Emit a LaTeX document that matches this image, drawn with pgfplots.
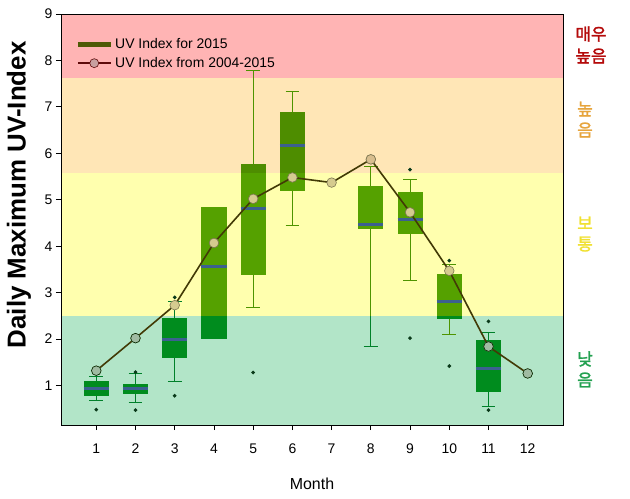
\documentclass[border=0pt]{standalone}
\usepackage{fontspec}
\setmainfont{Liberation Sans}
\newfontfamily\kr{Noto Sans CJK KR}[FakeBold=1.7]
\usepackage{pgfplots}
\pgfplotsset{compat=1.18}
\usepgfplotslibrary{statistics}
\definecolor{bandred}{HTML}{FFB4B4}
\definecolor{bandorange}{HTML}{FFE6B6}
\definecolor{bandyellow}{HTML}{FFFFAE}
\definecolor{bandgreen}{HTML}{B2E5C8}
\definecolor{boxlight}{HTML}{55A100}
\definecolor{boxorange}{HTML}{4E8D00}
\definecolor{boxdark}{HTML}{008C1E}
\definecolor{whisk}{HTML}{4E9400}
\definecolor{whiskdark}{HTML}{00802A}
\definecolor{medc}{HTML}{3C6090}
\definecolor{outl}{HTML}{0A3A1A}
\definecolor{linec}{HTML}{423A06}
\definecolor{mtan}{HTML}{D5CB8F}
\definecolor{mgreen}{HTML}{A0BBA2}
\definecolor{morange}{HTML}{D8BE8E}
\definecolor{legolive}{HTML}{4E5A06}
\definecolor{legred}{HTML}{5E0A0A}
\definecolor{legpink}{HTML}{C8A0A0}
\definecolor{krred}{HTML}{B40A0A}
\definecolor{krorange}{HTML}{E6A43C}
\definecolor{kryellow}{HTML}{F0E030}
\definecolor{krgreen}{HTML}{22A050}
\pgfplotsset{
  uvbox/.style={
    forget plot,
    boxplot/draw direction=y,
    boxplot/box extend=0.64,
    boxplot/whisker extend=0.35,
    solid, draw=whisk, line width=1bp,
    mark=*, mark size=1.3bp, mark options={draw=outl, fill=outl, solid},
    boxplot/every box/.style={draw=none, fill=#1},
    boxplot/every median/.style={draw=medc, line width=3bp},
  },
}
\begin{document}
\begin{tikzpicture}
\begin{axis}[
  name=ax,
  scale only axis, width=502bp, height=411bp,
  xmin=0.1, xmax=12.9, ymin=0.15, ymax=9,
  xtick={1,2,3,4,5,6,7,8,9,10,11,12},
  ytick={1,2,3,4,5,6,7,8,9},
  tick pos=left, tick align=outside,
  major tick length=5bp,
  tick style={black, line width=0.8bp},
  axis line style={black, line width=0.8bp},
  /pgf/number format/assume math mode=true,
  ticklabel style={font=\fontsize{14}{16}\selectfont},
  xticklabel style={yshift=-10bp},
  xlabel={Month},
  ylabel={Daily Maximum UV-Index},
  xlabel style={font=\fontsize{16}{19}\selectfont, at={(axis description cs:0.5,-0.1436)}, anchor=center},
  ylabel style={font=\fontsize{26}{30}\selectfont\bfseries, at={(axis description cs:-0.084,0.56)}, anchor=center},
  clip=true,
  legend style={at={(axis description cs:0.028,0.945)}, anchor=north west, draw=none, fill=none,
    font=\fontsize{14}{16}\selectfont, row sep=3bp, inner sep=0pt},
  legend cell align=left,
  axis on top,
]
% background bands
\addplot[forget plot, draw=none, fill=bandgreen] coordinates {(0.1,0.15)(12.9,0.15)(12.9,2.49)(0.1,2.49)} -- cycle;
\addplot[forget plot, draw=none, fill=bandyellow] coordinates {(0.1,2.49)(12.9,2.49)(12.9,5.58)(0.1,5.58)} -- cycle;
\addplot[forget plot, draw=none, fill=bandorange] coordinates {(0.1,5.58)(12.9,5.58)(12.9,7.62)(0.1,7.62)} -- cycle;
\addplot[forget plot, draw=none, fill=bandred] coordinates {(0.1,7.62)(12.9,7.62)(12.9,9)(0.1,9)} -- cycle;

% legend images
\addlegendimage{legend image code/.code={\draw[legolive, line width=5bp] (0bp,0bp) -- (33bp,0bp);}}
\addlegendentry{UV Index for 2015}
\addlegendimage{legend image code/.code={\draw[legred, line width=1.6bp] (0bp,0bp) -- (33bp,0bp);
  \draw[legred, fill=legpink, line width=0.6bp] (16.5bp,0bp) circle (4.5bp);}}
\addlegendentry{UV Index from 2004-2015}

% boxplots
\addplot[uvbox=boxdark, draw=whiskdark, boxplot prepared={draw position=1, lower whisker=0.68, lower quartile=0.78, median=0.94, upper quartile=1.09, upper whisker=1.2}]
  table[row sep=\\, y index=0] {data\\ 0.48\\};
\addplot[uvbox=boxdark, draw=whiskdark, boxplot prepared={draw position=2, lower whisker=0.63, lower quartile=0.81, median=0.94, upper quartile=1.04, upper whisker=1.25}]
  table[row sep=\\, y index=0] {data\\ 0.47\\ 1.29\\};
\addplot[uvbox=boxdark, draw=whiskdark, boxplot prepared={draw position=3, lower whisker=1.09, lower quartile=1.59, median=1.99, upper quartile=2.46, upper whisker=2.80}]
  table[row sep=\\, y index=0] {data\\ 0.78\\ 2.90\\};
\addplot[uvbox=boxlight, boxplot/every whisker/.style={draw=none}, boxplot prepared={draw position=4, lower whisker=2.0, lower quartile=2.0, median=3.56, upper quartile=4.85, upper whisker=4.85}]
  coordinates {};
\addplot[uvbox=boxlight, boxplot prepared={draw position=5, lower whisker=2.68, lower quartile=3.37, median=4.81, upper quartile=5.78, upper whisker=7.79}]
  table[row sep=\\, y index=0] {data\\ 1.28\\};
\addplot[uvbox=boxorange, boxplot prepared={draw position=6, lower whisker=4.45, lower quartile=5.18, median=6.17, upper quartile=6.88, upper whisker=7.33}]
  coordinates {};
\addplot[uvbox=boxlight, boxplot prepared={draw position=8, lower whisker=1.84, lower quartile=4.37, median=4.46, upper quartile=5.30, upper whisker=5.71}]
  coordinates {};
\addplot[uvbox=boxlight, boxplot prepared={draw position=9, lower whisker=3.26, lower quartile=4.27, median=4.57, upper quartile=5.17, upper whisker=5.43}]
  table[row sep=\\, y index=0] {data\\ 2.02\\ 5.65\\};
\addplot[uvbox=boxlight, boxplot prepared={draw position=10, lower whisker=2.10, lower quartile=2.43, median=2.82, upper quartile=3.40, upper whisker=3.61}]
  table[row sep=\\, y index=0] {data\\ 1.42\\ 3.69\\};
\addplot[uvbox=boxdark, draw=whiskdark, boxplot prepared={draw position=11, lower whisker=0.54, lower quartile=0.86, median=1.37, upper quartile=1.97, upper whisker=2.14}]
  table[row sep=\\, y index=0] {data\\ 0.47\\ 2.38\\};

% box parts lying in other bands
\addplot[forget plot, draw=none, fill=boxdark] coordinates {(3.68,2.0)(4.32,2.0)(4.32,2.49)(3.68,2.49)} -- cycle;
\addplot[forget plot, draw=none, fill=boxdark] coordinates {(9.68,2.43)(10.32,2.43)(10.32,2.49)(9.68,2.49)} -- cycle;
\addplot[forget plot, draw=none, fill=boxorange] coordinates {(4.68,5.58)(5.32,5.58)(5.32,5.78)(4.68,5.78)} -- cycle;
\addplot[forget plot, draw=none, fill=boxlight] coordinates {(5.68,5.18)(6.32,5.18)(6.32,5.58)(5.68,5.58)} -- cycle;
\addplot[forget plot, draw=whiskdark, line width=1bp] coordinates {(8,1.84)(8,2.49)};
\addplot[forget plot, draw=whiskdark, line width=1bp] coordinates {(7.825,1.84)(8.175,1.84)};

% 2004-2015 mean line
\addplot[forget plot, linec, line width=1.6bp, mark=*, mark size=4.8bp,
  mark options={fill=mtan, draw=linec!70!white, line width=0.6bp}]
  coordinates {(1,1.32)(2,2.02)(3,2.73)(4,4.07)(5,5.02)(6,5.48)(7,5.37)(8,5.87)(9,4.73)(10,3.47)(11,1.84)(12,1.26)};
\addplot[forget plot, only marks, mark=*, mark size=4.8bp,
  mark options={fill=mgreen, draw=black!60!green!40!black, line width=0.6bp}]
  coordinates {(1,1.32)(2,2.02)(11,1.84)(12,1.26)};
\addplot[forget plot, only marks, mark=*, mark size=4.8bp,
  mark options={fill=morange, draw=linec!70!white, line width=0.6bp}]
  coordinates {(8,5.87)};
\end{axis}
% band names at the right
\begin{scope}[font=\kr\fontsize{17}{19}\selectfont, inner sep=0pt]
\node[krred] at ([shift={(530bp,391bp)}]ax.south west) {매우};
\node[krred] at ([shift={(530bp,369bp)}]ax.south west) {높음};
\node[krorange] at ([shift={(524bp,316bp)}]ax.south west) {높};
\node[krorange] at ([shift={(524bp,295bp)}]ax.south west) {음};
\node[kryellow] at ([shift={(524bp,202bp)}]ax.south west) {보};
\node[kryellow] at ([shift={(524bp,181bp)}]ax.south west) {통};
\node[krgreen] at ([shift={(524bp,66bp)}]ax.south west) {낮};
\node[krgreen] at ([shift={(524bp,45bp)}]ax.south west) {음};
\end{scope}
\pgfresetboundingbox
\path ([shift={(-61bp,-74bp)}]ax.south west) rectangle ([shift={(569bp,425bp)}]ax.south west);
\end{tikzpicture}
\end{document}
